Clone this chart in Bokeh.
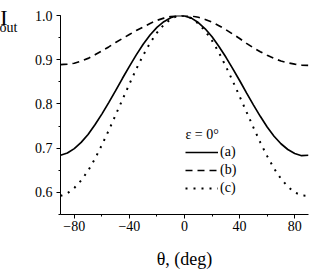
from bokeh.plotting import figure
from bokeh.models import (Range1d, FixedTicker, PrintfTickFormatter, Label,
                          Legend, LegendItem, LinearAxis)
from bokeh.embed import file_html
from bokeh.resources import INLINE

# ---- data ----
theta = [-90, -85, -80, -75, -70, -65, -60, -55, -50, -45, -40, -35, -30, -25,
         -20, -15, -10, -5, 0, 5, 10, 15, 20, 25, 30, 35, 40, 45, 50, 55, 60,
         65, 70, 75, 80, 85, 90]
curve_a = [0.684, 0.689, 0.699, 0.713, 0.731, 0.753, 0.777, 0.803, 0.830, 0.858,
           0.885, 0.911, 0.935, 0.956, 0.973, 0.986, 0.995, 1.000, 0.999, 0.994,
           0.984, 0.970, 0.952, 0.930, 0.906, 0.880, 0.853, 0.825, 0.798, 0.772,
           0.748, 0.727, 0.710, 0.697, 0.688, 0.683, 0.684]
curve_b = [0.889, 0.890, 0.892, 0.897, 0.903, 0.911, 0.920, 0.929, 0.939, 0.948,
           0.957, 0.966, 0.974, 0.982, 0.989, 0.994, 0.998, 1.000, 1.000, 0.999,
           0.996, 0.991, 0.985, 0.977, 0.968, 0.958, 0.948, 0.937, 0.927, 0.918,
           0.910, 0.903, 0.897, 0.893, 0.890, 0.888, 0.887]
curve_c = [0.592, 0.598, 0.610, 0.627, 0.649, 0.676, 0.707, 0.740, 0.775, 0.810,
           0.845, 0.879, 0.910, 0.938, 0.961, 0.979, 0.992, 0.999, 0.9995, 0.994,
           0.982, 0.965, 0.943, 0.916, 0.885, 0.852, 0.817, 0.782, 0.747, 0.713,
           0.682, 0.654, 0.631, 0.613, 0.600, 0.593, 0.592]
series_labels = ["(a)", "(b)", "(c)"]
legend_title = "ε = 0°"
x_major_ticks = [-80, -40, 0, 40, 80]
x_minor_ticks = [-80, -60, -40, -20, 0, 20, 40, 60, 80]
x_tick_labels = {-80: "−80", -40: "−40", 0: "0", 40: "40", 80: "80"}
y_major_ticks = [0.6, 0.7, 0.8, 0.9, 1.0]
y_minor_ticks = [0.55, 0.6, 0.65, 0.7, 0.75, 0.8, 0.85, 0.9, 0.95, 1.0]
x_label = "θ, (deg)"
y_label_main = "I"
y_label_sub = "out"

FONT = "'Liberation Serif', serif"

p = figure(width=323, height=279, output_backend="svg", toolbar_location=None,
           x_range=Range1d(-90, 90), y_range=Range1d(0.55, 1.0),
           min_border_left=68, min_border_right=7, min_border_top=23,
           min_border_bottom=57)
p.margin = (-8, -8, -8, -8)
p.outline_line_color = None
p.grid.visible = False
p.background_fill_color = "white"
p.border_fill_color = "white"

ra = p.line(theta, curve_a, line_color="black", line_width=1.7)
rb = p.line(theta, curve_b, line_color="black", line_width=1.7, line_dash="7 5")
rc = p.line(theta, curve_c, line_color="black", line_width=2.0, line_dash="2 6")

for ax in (p.xaxis[0], p.yaxis[0]):
    ax.axis_line_color = "black"
    ax.axis_line_width = 1
    ax.major_tick_line_color = "black"
    ax.minor_tick_line_color = "black"
    ax.major_tick_out = 4
    ax.major_tick_in = 0
    ax.minor_tick_out = 2
    ax.minor_tick_in = 0
    ax.major_label_text_font = FONT
    ax.major_label_text_font_size = "14px"
    ax.major_label_text_color = "black"

p.xaxis.ticker = FixedTicker(ticks=x_major_ticks, minor_ticks=x_minor_ticks)
p.xaxis.major_label_overrides = x_tick_labels
p.xaxis.major_label_standoff = 2
p.xaxis.axis_label = x_label
p.xaxis.axis_label_text_font = FONT
p.xaxis.axis_label_text_font_size = "18px"
p.xaxis.axis_label_text_font_style = "normal"
p.xaxis.axis_label_text_color = "black"
p.xaxis.axis_label_standoff = 15

p.yaxis.ticker = FixedTicker(ticks=y_major_ticks, minor_ticks=y_minor_ticks)
p.yaxis.formatter = PrintfTickFormatter(format="%.1f")
p.yaxis.major_label_standoff = 4


# y title "I_out" drawn as single-tick label axes stacked left of the y axis
def title_axis(text, tick_value, size, standoff):
    ax = LinearAxis(ticker=FixedTicker(ticks=[tick_value], minor_ticks=[]),
                    major_label_overrides={tick_value: text})
    ax.axis_line_color = None
    ax.major_tick_line_color = None
    ax.minor_tick_line_color = None
    ax.major_tick_out = 0
    ax.major_tick_in = 0
    ax.minor_tick_out = 0
    ax.minor_tick_in = 0
    ax.major_label_standoff = standoff
    ax.major_label_text_font = FONT
    ax.major_label_text_font_size = size
    ax.major_label_text_color = "black"
    return ax


p.add_layout(title_axis(y_label_sub, 0.9727, "14px", 14), "left")
p.add_layout(title_axis(y_label_main, 0.9948, "22px", -11), "left")

lab_title = Label(x=0.7, y=0.731, text=legend_title,
                  text_font=FONT, text_font_size="14px", text_color="black",
                  text_baseline="middle")
p.add_layout(lab_title)

legend = Legend(items=[LegendItem(label=series_labels[0], renderers=[ra]),
                       LegendItem(label=series_labels[1], renderers=[rb]),
                       LegendItem(label=series_labels[2], renderers=[rc])],
                location=(125, 17))
legend.label_text_font = FONT
legend.label_text_font_size = "14px"
legend.label_text_color = "black"
legend.label_standoff = 2
legend.glyph_width = 33
legend.glyph_height = 18
legend.label_height = 18
legend.spacing = 0
legend.padding = 0
legend.margin = 0
legend.border_line_color = None
legend.background_fill_alpha = 0
p.add_layout(legend)

open("out.html", "w").write(file_html(p, INLINE))
